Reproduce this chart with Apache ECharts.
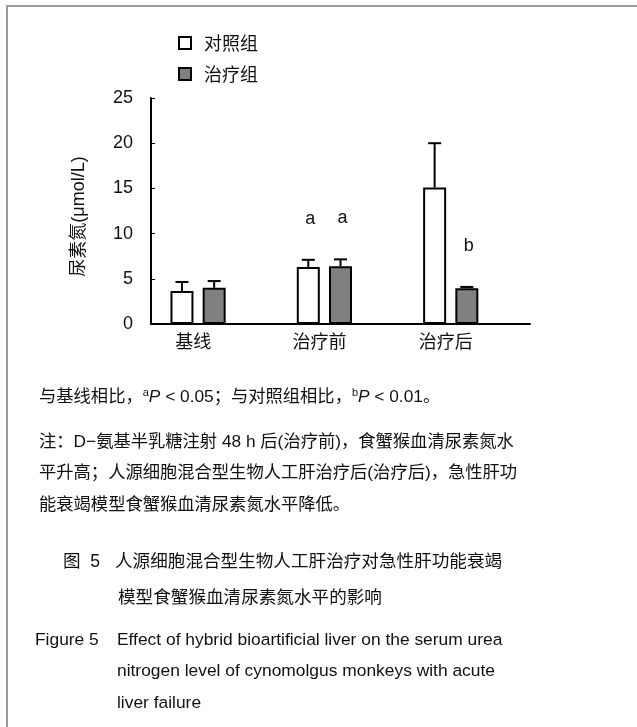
<!DOCTYPE html>
<html><head><meta charset="utf-8">
<script src="https://cdn.jsdelivr.net/npm/echarts@6/dist/echarts.min.js"></script>
<style>html,body{margin:0;padding:0;background:#fff}#c{width:637px;height:727px}</style>
</head><body><div id="c"></div>
<script>
// ---- data ----
const categories = ['基线', '治疗前', '治疗后'];
const seriesNames = ['对照组', '治疗组'];
const controlMean = [3.65, 6.3, 15.1];
const controlErr = [1.0, 0.8, 4.9];
const treatMean = [4.0, 6.4, 3.95];
const treatErr = [0.75, 0.75, 0.15];
const controlSig = ['', 'a', ''];
const treatSig = ['', 'a', 'b'];
const yMin = 0, yMax = 25, yStep = 5;

const noteLine1 = '与基线相比，{sup|a}{it|P}{n| < 0.05}；与对照组相比，{sup|b}{it|P}{n| < 0.01}。';
const noteLines = [
  '注：D−氨基半乳糖注射 48 h 后(治疗前)，食蟹猴血清尿素氮水',
  '平升高；人源细胞混合型生物人工肝治疗后(治疗后)，急性肝功',
  '能衰竭模型食蟹猴血清尿素氮水平降低。'
];
const captionCnLabel = '图  5';
const captionCn = ['人源细胞混合型生物人工肝治疗对急性肝功能衰竭', '模型食蟹猴血清尿素氮水平的影响'];
const captionEnLabel = 'Figure 5';
const captionEn = ['Effect of hybrid bioartificial liver on the serum urea',
  'nitrogen level of cynomolgus monkeys with acute', 'liver failure'];

// ---- style ----
const LAT = '"Liberation Sans", Arial, sans-serif';
const MIX = '"Liberation Sans", "Noto Sans CJK SC", sans-serif';
const CJK = '"Noto Sans CJK SC", sans-serif';
const BAR_W = 23, BAR_GAP = 0.4;
const GRAY = '#808080';
const INK = '#111';

function errSeries(mean, err, sig, shift) {
  return {
    type: 'custom', z: 5, silent: true,
    data: mean.map((m, i) => [i, m, err[i]]),
    renderItem: function (params, api) {
      const i = api.value(0), m = api.value(1), e = api.value(2);
      const base = api.coord([i, m]);
      const top = api.coord([i, m + e]);
      const x = base[0] + shift;
      const children = [
        { type: 'line', shape: { x1: x, y1: base[1], x2: x, y2: top[1] }, style: { stroke: '#000', lineWidth: 2 } },
        { type: 'line', shape: { x1: x - 6.5, y1: top[1], x2: x + 6.5, y2: top[1] }, style: { stroke: '#000', lineWidth: 2 } }
      ];
      const s = sig[params.dataIndex];
      if (s) children.push({ type: 'text', x: x + 2, y: top[1] - 41,
        style: { text: s, font: '18px ' + LAT, fill: INK, align: 'center', verticalAlign: 'middle' } });
      return { type: 'group', children: children };
    }
  };
}

function txt(x, y, text, font) {
  return { type: 'text', x: x, y: y,
    style: { text: text, font: font, fill: INK, verticalAlign: 'middle' } };
}

const graphics = [
  { type: 'rect', shape: { x: 7, y: 6, width: 700, height: 800 }, style: { fill: 'none', stroke: '#9a9a9a', lineWidth: 2 }, z: 10 },
  { type: 'text', x: 39, y: 397, style: {
      text: noteLine1, font: '17.3px ' + MIX, fill: INK, verticalAlign: 'middle',
      rich: {
        sup: { fontSize: 11, fontFamily: LAT, verticalAlign: 'top', fill: INK, padding: [0, 0, 8, 0] },
        it: { fontSize: 17.3, fontFamily: LAT, fontStyle: 'italic', fill: INK },
        n: { fontSize: 17.3, fontFamily: LAT, fill: INK }
      } } }
];
noteLines.forEach((l, k) => graphics.push(txt(39, 442 + k * 31.5, l, '17.3px ' + MIX)));
graphics.push(txt(63, 562, captionCnLabel, '17.6px ' + MIX));
captionCn.forEach((l, k) => graphics.push(txt(k === 0 ? 115 : 118, 562 + k * 36, l, '17.6px ' + MIX)));
graphics.push(txt(35, 640, captionEnLabel, '17.4px ' + LAT));
captionEn.forEach((l, k) => graphics.push(txt(117, 640 + k * 31.5, l, '17.4px ' + LAT)));

const chart = echarts.init(document.getElementById('c'), null, { renderer: 'canvas' });
chart.setOption({
  animation: false,
  backgroundColor: '#fff',
  legend: {
    data: seriesNames, orient: 'vertical', left: 178, top: 34, padding: 0,
    icon: 'rect', itemWidth: 12, itemHeight: 12, itemGap: 13,
    textStyle: { fontSize: 18, fontFamily: CJK, color: INK, lineHeight: 18, padding: [0, 0, 0, 8] }
  },
  grid: { left: 151, right: 107, top: 98, bottom: 403, containLabel: false },
  xAxis: {
    type: 'category', data: categories,
    axisLine: { lineStyle: { color: '#000', width: 2 } },
    axisTick: { show: true, inside: true, length: 3, alignWithLabel: true, lineStyle: { color: '#000' } },
    axisLabel: { fontSize: 18, fontFamily: CJK, color: INK, margin: 8, padding: [0, 42, 0, 0] },
    splitLine: { show: false }
  },
  yAxis: {
    type: 'value', min: yMin, max: yMax, interval: yStep,
    name: '尿素氮(μmol/L)', nameLocation: 'middle', nameGap: 63, nameRotate: 90,
    nameTextStyle: { fontSize: 18, fontFamily: MIX, color: INK, padding: [0, 11, 0, 0] },
    axisLine: { show: true, lineStyle: { color: '#000', width: 2 } },
    axisTick: { show: true, inside: true, length: 4, lineStyle: { color: '#000' } },
    axisLabel: { fontSize: 18, fontFamily: LAT, color: INK, margin: 18 },
    splitLine: { show: false }
  },
  series: [
    { name: seriesNames[0], type: 'bar', data: controlMean, barWidth: BAR_W, barGap: (BAR_GAP * 100) + '%',
      itemStyle: { color: '#fff', borderColor: '#000', borderWidth: 2 } },
    { name: seriesNames[1], type: 'bar', data: treatMean, barWidth: BAR_W,
      itemStyle: { color: GRAY, borderColor: '#000', borderWidth: 2 } },
    { name: '', type: 'bar', data: categories.map(() => '-'), barWidth: BAR_W, silent: true,
      itemStyle: { color: 'transparent' } },
    errSeries(controlMean, controlErr, controlSig, -BAR_W * (1 + BAR_GAP)),
    errSeries(treatMean, treatErr, treatSig, 0)
  ],
  graphic: graphics
});
</script>
</body></html>
